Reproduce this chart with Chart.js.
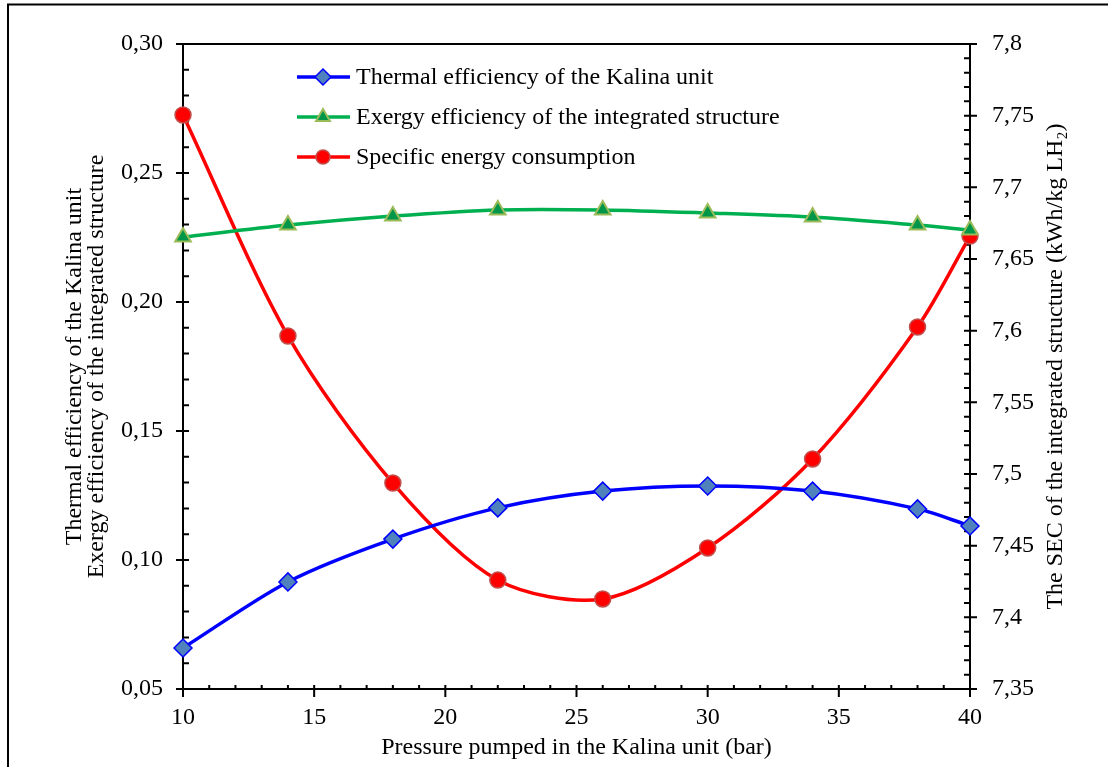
<!DOCTYPE html>
<html>
<head>
<meta charset="utf-8">
<script src="https://cdn.jsdelivr.net/npm/chart.js@4"></script>
<style>
  html, body { margin: 0; padding: 0; background: #fff; }
  #wrap { width: 1108px; height: 767px; }
</style>
</head>
<body>
<div id="wrap"><canvas id="kalinaChart" width="1108" height="767"></canvas></div>
<script>
const pressure = [10, 14, 18, 22, 26, 30, 34, 38, 40];
const thermalEff = [0.0659, 0.0915, 0.1081, 0.1202, 0.1267, 0.1287, 0.1267, 0.1198, 0.1132];
const exergyEff = [0.2252, 0.2298, 0.2333, 0.2357, 0.2357, 0.2345, 0.2329, 0.2298, 0.2279];
const secValues = [7.7505, 7.5963, 7.4937, 7.4260, 7.4128, 7.4484, 7.5105, 7.6026, 7.6660];

const xTicks = [10, 15, 20, 25, 30, 35, 40];
const leftTicks = ['0,05', '0,10', '0,15', '0,20', '0,25', '0,30'];
const rightTicks = ['7,35', '7,4', '7,45', '7,5', '7,55', '7,6', '7,65', '7,7', '7,75', '7,8'];

const seriesNames = [
    'Thermal efficiency of the Kalina unit',
    'Exergy efficiency of the integrated structure',
    'Specific energy consumption'
];
const xTitle = 'Pressure pumped in the Kalina unit (bar)';
const leftTitle = ['Thermal efficiency of the Kalina unit', 'Exergy efficiency of the integrated structure'];
const rightTitle = 'The SEC of the integrated structure (kWh/kg LH\u2082)';

const FONT = '"Liberation Serif", "Times New Roman", serif';
const toNum = s => parseFloat(s.replace(',', '.'));

// axis frame, tick marks, titles, legend
const decorPlugin = {
    id: 'decor',
    beforeDatasetsDraw(chart) {
        const c = chart.ctx;
        const a = chart.chartArea;
        const sx = chart.scales.x, sy = chart.scales.y, sy1 = chart.scales.y1;
        c.save();
        c.strokeStyle = '#000';
        c.lineWidth = 2;

        // outer frame (left + top)
        c.beginPath();
        c.moveTo(8, 767); c.lineTo(8, 4.5); c.lineTo(1108, 4.5);
        c.stroke();

        // plot box
        c.beginPath();
        c.moveTo(a.left - 7, a.top); c.lineTo(a.right + 7, a.top);
        c.moveTo(a.left - 7, a.bottom); c.lineTo(a.right + 7, a.bottom);
        c.moveTo(a.left, a.top); c.lineTo(a.left, a.bottom);
        c.moveTo(a.right, a.top); c.lineTo(a.right, a.bottom);
        c.stroke();

        c.beginPath();
        // x ticks
        for (let v = 10; v <= 40; v += 1) {
            const px = sx.getPixelForValue(v);
            if (v % 5 === 0) { c.moveTo(px, a.bottom - 4); c.lineTo(px, a.bottom + 8); }
            else { c.moveTo(px, a.bottom - 4); c.lineTo(px, a.bottom); }
        }
        // left ticks
        for (let i = 0; i <= 25; i++) {
            const py = sy.getPixelForValue(0.05 + i * 0.01);
            if (i % 5 === 0) { c.moveTo(a.left - 7, py); c.lineTo(a.left + 6, py); }
            else { c.moveTo(a.left, py); c.lineTo(a.left + 6, py); }
        }
        // right ticks
        for (let i = 0; i <= 45; i++) {
            const py = sy1.getPixelForValue(7.35 + i * 0.01);
            if (i % 5 === 0) { c.moveTo(a.right - 6, py); c.lineTo(a.right + 7, py); }
            else { c.moveTo(a.right - 6, py); c.lineTo(a.right, py); }
        }
        c.stroke();

        // titles
        c.fillStyle = '#000';
        c.font = '24px ' + FONT;
        c.textAlign = 'center';
        c.textBaseline = 'middle';
        c.fillText(xTitle, (a.left + a.right) / 2, 748);

        const midY = (a.top + a.bottom) / 2;
        [[75, leftTitle[0]], [97, leftTitle[1]], [1056, rightTitle]].forEach(([tx, txt]) => {
            c.save();
            c.translate(tx, midY);
            c.rotate(-Math.PI / 2);
            c.fillText(txt, 0, 0);
            c.restore();
        });
        c.restore();
    },
    afterDraw(chart) {
        const c = chart.ctx;
        const a = chart.chartArea;
        c.save();
        c.font = '24px ' + FONT;
        c.textBaseline = 'middle';
        c.textAlign = 'left';
        const lx = a.left + 114;
        chart.data.datasets.forEach((ds, i) => {
            const ly = a.top + 33 + i * 40;
            c.strokeStyle = ds.borderColor;
            c.lineWidth = ds.borderWidth;
            c.beginPath();
            c.moveTo(lx, ly); c.lineTo(lx + 53, ly);
            c.stroke();
            c.fillStyle = ds.pointBackgroundColor;
            c.strokeStyle = ds.pointBorderColor;
            c.lineWidth = ds.pointBorderWidth;
            Chart.helpers.drawPoint(c, {
                pointStyle: ds.pointStyle, radius: ds.pointRadius - 1,
                borderWidth: ds.pointBorderWidth, rotation: 0
            }, lx + 26, ly);
            c.fillStyle = '#000';
            c.fillText(ds.label, lx + 59, ly + 1);
        });
        c.restore();
    }
};

new Chart(document.getElementById('kalinaChart').getContext('2d'), {
    type: 'line',
    data: {
        datasets: [{
            label: seriesNames[0],
            data: pressure.map((p, i) => ({ x: p, y: thermalEff[i] })),
            yAxisID: 'y',
            borderColor: '#0000FF',
            borderWidth: 3.5,
            pointStyle: 'rectRot',
            pointRadius: 9,
            pointBackgroundColor: '#4F81BD',
            pointBorderColor: '#0000FF',
            pointBorderWidth: 1.5,
            tension: 0.3,
            clip: false
        }, {
            label: seriesNames[1],
            data: pressure.map((p, i) => ({ x: p, y: exergyEff[i] })),
            yAxisID: 'y',
            borderColor: '#00B050',
            borderWidth: 3.5,
            pointStyle: 'triangle',
            pointRadius: 9,
            pointBackgroundColor: '#00964A',
            pointBorderColor: '#9BBB59',
            pointBorderWidth: 2,
            tension: 0.3,
            clip: false
        }, {
            label: seriesNames[2],
            data: pressure.map((p, i) => ({ x: p, y: secValues[i] })),
            yAxisID: 'y1',
            borderColor: '#FF0000',
            borderWidth: 3.5,
            pointStyle: 'circle',
            pointRadius: 8,
            pointBackgroundColor: '#FF0000',
            pointBorderColor: '#C0504D',
            pointBorderWidth: 1.5,
            tension: 0.3,
            clip: false
        }]
    },
    options: {
        responsive: false,
        animation: false,
        layout: { padding: { top: 44, left: 0, right: 0, bottom: 0 } },
        plugins: { legend: { display: false }, tooltip: { enabled: false } },
        scales: {
            x: {
                type: 'linear', min: 10, max: 40,
                grid: { display: false, drawTicks: false },
                border: { display: false },
                afterFit: s => { s.height = 78; },
                afterBuildTicks: s => { s.ticks = xTicks.map(v => ({ value: v })); },
                ticks: { color: '#000', padding: 14, font: { family: FONT, size: 24 }, maxRotation: 0,
                    callback: v => String(v) }
            },
            y: {
                position: 'left', min: 0.05, max: 0.30,
                grid: { display: false, drawTicks: false },
                border: { display: false },
                afterFit: s => { s.width = 183; },
                afterBuildTicks: s => { s.ticks = leftTicks.map(t => ({ value: toNum(t) })); },
                ticks: { color: '#000', padding: 20, font: { family: FONT, size: 24 },
                    callback: (v, i) => leftTicks[i] }
            },
            y1: {
                position: 'right', min: 7.35, max: 7.8,
                grid: { display: false, drawTicks: false },
                border: { display: false },
                afterFit: s => { s.width = 138; },
                afterBuildTicks: s => { s.ticks = rightTicks.map(t => ({ value: toNum(t) })); },
                ticks: { color: '#000', padding: 22, font: { family: FONT, size: 24 },
                    callback: (v, i) => rightTicks[i] }
            }
        }
    },
    plugins: [decorPlugin]
});
</script>
</body>
</html>
